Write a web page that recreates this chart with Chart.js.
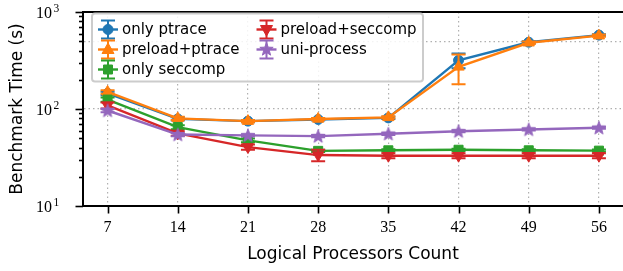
<!DOCTYPE html>
<html>
<head>
<meta charset="utf-8">
<script src="https://cdn.jsdelivr.net/npm/chart.js@4.4.1/dist/chart.umd.min.js"></script>
<style>
  html, body { margin: 0; padding: 0; background: #fff; }
  #wrap { width: 623px; height: 271px; }
</style>
</head>
<body>
<div id="wrap"><canvas id="benchChart" width="623" height="271"></canvas></div>
<script>
// logical processors (x categories)
var processors = [7, 14, 21, 28, 35, 42, 49, 56];

// benchmark time in seconds
var onlyPtrace     = [145, 79, 75, 78, 81, 318, 488, 578];
var preloadPtrace  = [150, 80, 75, 79, 82, 272, 482, 570];
var onlySeccomp    = [125, 65, 47.5, 37, 37.5, 38, 37.5, 37.2];
var preloadSeccomp = [109, 56, 40.5, 33.5, 33, 33, 33, 33];
var uniProcess     = [96.5, 54.5, 53.5, 52.5, 55.5, 59, 61.5, 64];

// error bar half-heights
var errOnlyPtrace     = [6, 3, 2, 2, 2, 55, 12, 12];
var errPreloadPtrace  = [6, 3, 2, 2, 2, 92, 15, 15];
var errOnlySeccomp    = [6, 3, 2, 1, 1, 1, 1, 1];
var errPreloadSeccomp = [8, 3, 2.5, 4.5, 2, 2, 2, 2];
var errUniProcess     = [4, 2, 1.5, 1.5, 1.5, 1.5, 1.5, 1.5];

// y tick labels: base and exponent
var yMajorTicks = [10, 100, 1000];
var yMajorExp   = ['1', '2', '3'];

var yTickValues = [];
[10, 100].forEach(function(d) {
  for (var k = 1; k <= 9; k++) yTickValues.push(d * k);
});
yTickValues.push(1000);

var C = {
  blue: '#1f77b4', orange: '#ff7f0e', green: '#2ca02c', red: '#d62728', purple: '#9467bd'
};

function drawMarker(ctx, kind, x, y, color) {
  ctx.save();
  ctx.fillStyle = color;
  ctx.strokeStyle = color;
  ctx.lineWidth = 1;
  ctx.beginPath();
  if (kind === 'circle') {
    ctx.arc(x, y, 5, 0, Math.PI * 2);
  } else if (kind === 'up') {
    ctx.moveTo(x, y - 6.5); ctx.lineTo(x + 6, y + 4); ctx.lineTo(x - 6, y + 4);
  } else if (kind === 'down') {
    ctx.moveTo(x, y + 6.5); ctx.lineTo(x + 6, y - 4); ctx.lineTo(x - 6, y - 4);
  } else if (kind === 'square') {
    ctx.rect(x - 4.5, y - 4.5, 9, 9);
  } else if (kind === 'star') {
    for (var i = 0; i < 10; i++) {
      var r = i % 2 === 0 ? 7 : 2.9;
      var a = -Math.PI / 2 + i * Math.PI / 5;
      if (i === 0) ctx.moveTo(x + r * Math.cos(a), y + r * Math.sin(a));
      else ctx.lineTo(x + r * Math.cos(a), y + r * Math.sin(a));
    }
  }
  ctx.closePath();
  ctx.fill();
  ctx.stroke();
  ctx.restore();
}

// filled star image for the uni-process points
var starImg = document.createElement('canvas');
starImg.width = 16; starImg.height = 16;
drawMarker(starImg.getContext('2d'), 'star', 8, 8.5, C.purple);

var series = [
  {label: 'only ptrace', data: onlyPtrace, err: errOnlyPtrace, color: C.blue, marker: 'circle', order: 5},
  {label: 'preload+ptrace', data: preloadPtrace, err: errPreloadPtrace, color: C.orange, marker: 'up', order: 4},
  {label: 'only seccomp', data: onlySeccomp, err: errOnlySeccomp, color: C.green, marker: 'square', order: 3},
  {label: 'preload+seccomp', data: preloadSeccomp, err: errPreloadSeccomp, color: C.red, marker: 'down', order: 2},
  {label: 'uni-process', data: uniProcess, err: errUniProcess, color: C.purple, marker: 'star', order: 1}
];

var pointOpts = {
  circle: {pointStyle: 'circle', pointRadius: 5, pointRotation: 0},
  up: {pointStyle: 'triangle', pointRadius: 6.5, pointRotation: 0},
  down: {pointStyle: 'triangle', pointRadius: 6.5, pointRotation: 180},
  square: {pointStyle: 'rect', pointRadius: 6.4, pointRotation: 0},
  star: {pointStyle: starImg, pointRadius: 7, pointRotation: 0}
};

var datasets = series.map(function(s) {
  var p = pointOpts[s.marker];
  return {
    label: s.label,
    data: s.data.map(function(v, i) { return {x: processors[i], y: v}; }),
    borderColor: s.color,
    backgroundColor: s.color,
    pointBackgroundColor: s.color,
    pointBorderColor: s.color,
    pointBorderWidth: 1,
    borderWidth: 2.4,
    pointStyle: p.pointStyle,
    pointRadius: p.pointRadius,
    pointRotation: p.pointRotation,
    tension: 0,
    clip: 10,
    order: s.order
  };
});

// error bars drawn under each series' own line
var errorBars = {
  id: 'errorBars',
  beforeDatasetDraw: function(chart, args) {
    var s = series[args.index];
    var xs = chart.scales.x, ys = chart.scales.y;
    var ctx = chart.ctx;
    ctx.save();
    ctx.strokeStyle = s.color;
    ctx.lineWidth = 2;
    s.data.forEach(function(v, i) {
      var x = xs.getPixelForValue(processors[i]);
      var y1 = ys.getPixelForValue(v + s.err[i]);
      var y2 = ys.getPixelForValue(Math.max(v - s.err[i], 10.01));
      ctx.beginPath();
      ctx.moveTo(x, y1); ctx.lineTo(x, y2);
      ctx.moveTo(x - 7, y1); ctx.lineTo(x + 7, y1);
      ctx.moveTo(x - 7, y2); ctx.lineTo(x + 7, y2);
      ctx.stroke();
    });
    ctx.restore();
  }
};

// tick marks, y labels, top spine and the legend box
var frame = {
  id: 'frame',
  afterDraw: function(chart) {
    var ctx = chart.ctx, a = chart.chartArea;
    var xs = chart.scales.x, ys = chart.scales.y;
    ctx.save();
    ctx.strokeStyle = '#000';
    ctx.lineWidth = 1.6;
    ys.ticks.forEach(function(t) {
      var y = Math.round(ys.getPixelForValue(t.value)) + 0.5;
      var len = yMajorTicks.indexOf(t.value) >= 0 ? 7.5 : 4;
      ctx.beginPath(); ctx.moveTo(a.left - len, y); ctx.lineTo(a.left, y); ctx.stroke();
    });
    xs.ticks.forEach(function(t) {
      var x = Math.round(xs.getPixelForValue(t.value)) + 0.5;
      ctx.beginPath(); ctx.moveTo(x, a.bottom); ctx.lineTo(x, a.bottom + 7.5); ctx.stroke();
    });
    ctx.lineWidth = 2;
    ctx.beginPath();
    ctx.moveTo(a.left, a.top); ctx.lineTo(a.right + 2, a.top);
    ctx.stroke();

    // y tick labels as 10 with a raised exponent
    ctx.fillStyle = '#000';
    ctx.textBaseline = 'alphabetic';
    ctx.textAlign = 'left';
    yMajorTicks.forEach(function(v, i) {
      var y = ys.getPixelForValue(v);
      ctx.font = '16px "Liberation Serif"';
      var w = ctx.measureText('10').width;
      var x0 = 36;
      ctx.fillText('10', x0, y + 5.5);
      ctx.font = '11.5px "Liberation Serif"';
      ctx.fillText(yMajorExp[i], x0 + w + 1.5, y - 0.5);
    });

    // legend
    var bx = 92, by = 13.5, bw = 331, bh = 68;
    ctx.fillStyle = 'rgba(255,255,255,0.85)';
    ctx.strokeStyle = '#cccccc';
    ctx.lineWidth = 2;
    ctx.beginPath();
    ctx.roundRect(bx, by, bw, bh, 3);
    ctx.fill();
    ctx.stroke();
    ctx.font = '15px "DejaVu Sans"';
    ctx.textBaseline = 'middle';
    ctx.fillStyle = '#000';
    var cols = [108, 266.5];
    series.forEach(function(s, i) {
      var col = i < 3 ? 0 : 1;
      var row = i < 3 ? i : i - 3;
      var mx = cols[col], my = 29.5 + row * 20;
      ctx.save();
      ctx.strokeStyle = s.color;
      ctx.lineWidth = 2.4;
      ctx.beginPath(); ctx.moveTo(mx - 10, my); ctx.lineTo(mx + 10, my); ctx.stroke();
      ctx.lineWidth = 2;
      ctx.beginPath();
      ctx.moveTo(mx, my - 9); ctx.lineTo(mx, my + 9);
      ctx.moveTo(mx - 7, my - 9); ctx.lineTo(mx + 7, my - 9);
      ctx.moveTo(mx - 7, my + 9); ctx.lineTo(mx + 7, my + 9);
      ctx.stroke();
      ctx.restore();
      drawMarker(ctx, s.marker, mx, my, s.color);
      ctx.fillStyle = '#000';
      ctx.fillText(s.label, mx + 14, my + 0.5);
    });
    ctx.restore();
  }
};

new Chart(document.getElementById('benchChart').getContext('2d'), {
  type: 'line',
  data: {datasets: datasets},
  plugins: [errorBars, frame],
  options: {
    responsive: false,
    animation: false,
    devicePixelRatio: 1,
    layout: {autoPadding: false, padding: {top: 12, right: 0, left: 0, bottom: 0}},
    plugins: {legend: {display: false}, tooltip: {enabled: false}},
    scales: {
      x: {
        type: 'linear',
        min: 4.55,
        max: 58.4,
        afterBuildTicks: function(scale) {
          scale.ticks = processors.map(function(v) { return {value: v}; });
        },
        afterFit: function(scale) { scale.height = 65; },
        ticks: {
          autoSkip: false,
          maxRotation: 0,
          padding: 12,
          color: '#000',
          font: {family: '"Liberation Serif"', size: 16},
          callback: function(v) { return String(v); }
        },
        grid: {
          lineWidth: 1.2,
          drawTicks: false,
          color: function(c) {
            var v = c.tick && c.tick.value;
            return processors.indexOf(v) >= 0 ? '#b0b0b0' : 'rgba(0,0,0,0)';
          }
        },
        border: {display: true, color: '#000', width: 2, dash: [1.5, 3]},
        title: {
          display: true,
          text: 'Logical Processors Count',
          color: '#000',
          font: {family: '"DejaVu Sans"', size: 17},
          padding: {top: 0, bottom: 6}
        }
      },
      y: {
        type: 'logarithmic',
        min: 10,
        max: 1000,
        afterBuildTicks: function(scale) {
          scale.ticks = yTickValues.map(function(v) { return {value: v}; });
        },
        afterFit: function(scale) { scale.width = 83; },
        ticks: {display: false, autoSkip: false},
        grid: {
          lineWidth: 1.2,
          drawTicks: false,
          color: function(c) {
            var v = c.tick && c.tick.value;
            return (v === 100 || v === 500) ? '#b0b0b0' : 'rgba(0,0,0,0)';
          }
        },
        border: {display: true, color: '#000', width: 2, dash: [1.5, 3]},
        title: {
          display: true,
          text: 'Benchmark Time (s)',
          color: '#000',
          font: {family: '"DejaVu Sans"', size: 17},
          padding: {top: 7, bottom: 0}
        }
      }
    }
  }
});
</script>
</body>
</html>
